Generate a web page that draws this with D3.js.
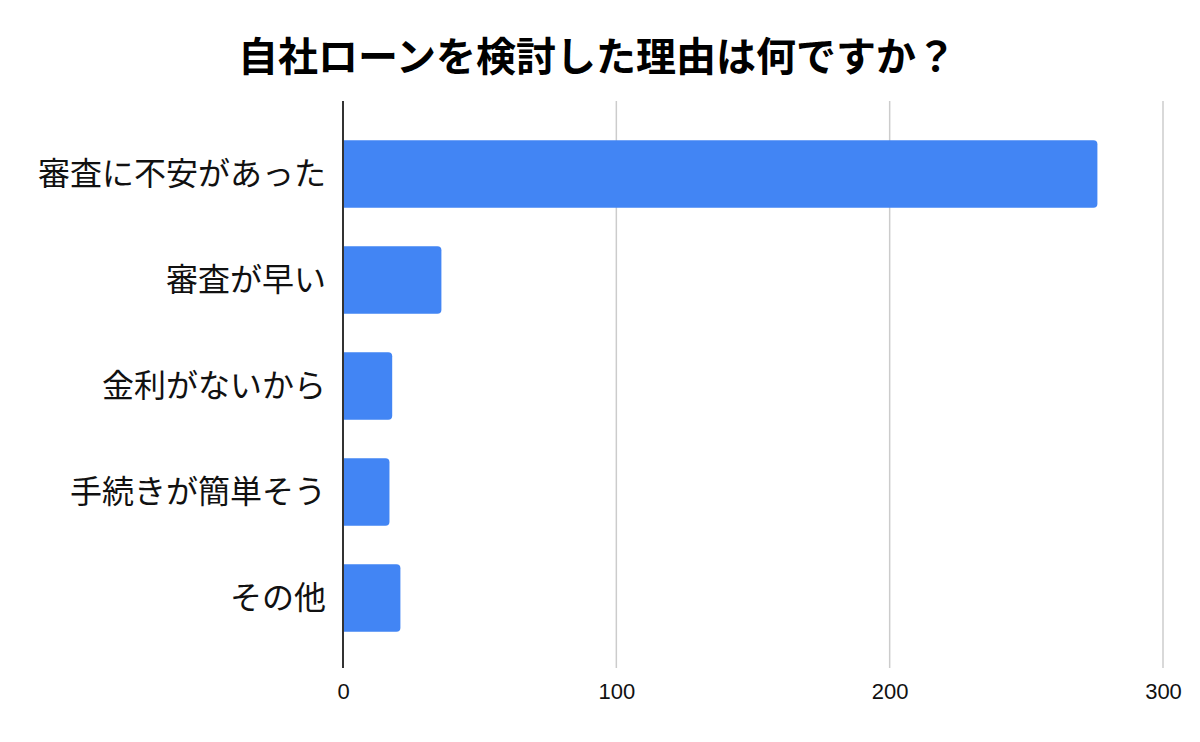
<!DOCTYPE html>
<html><head><meta charset="utf-8">
<script src="https://cdn.jsdelivr.net/npm/d3@7"></script>
<style>body{margin:0;background:#fff;}</style>
</head><body>
<svg id="c" width="1200" height="742"></svg>
<script>
const categories = ["審査に不安があった","審査が早い","金利がないから","手続きが簡単そう","その他"];
const values = [276, 36, 18, 17, 21];
const tickValues = [0, 100, 200, 300];
const title = "自社ローンを検討した理由は何ですか？";

(function(){
const svg = d3.select("#c");
svg.append("rect").attr("width",1200).attr("height",742).attr("fill","#fff");
const x = d3.scaleLinear().domain([0,300]).range([343,1163]);
const y = d3.scaleBand().domain(categories).range([121,651]).paddingInner(0.363).paddingOuter(0.1815);
const plotTop = 101, plotBottom = 668;

// gridlines
svg.append("g").selectAll("line").data(tickValues.filter(d=>d>0)).join("line")
  .attr("x1",d=>x(d)).attr("x2",d=>x(d)).attr("y1",plotTop).attr("y2",plotBottom)
  .attr("stroke","#cccccc").attr("stroke-width",1.5);

// bars
const r = 4;
svg.append("g").selectAll("path").data(values).join("path")
  .attr("d",(d,i)=>{
    const x0=x(0), x1=x(d), y0=y(categories[i]), h=y.bandwidth();
    return `M${x0},${y0}H${x1-r}Q${x1},${y0} ${x1},${y0+r}V${y0+h-r}Q${x1},${y0+h} ${x1-r},${y0+h}H${x0}Z`;
  })
  .attr("fill","#4285f4");

// axis line
svg.append("line").attr("x1",x(0)).attr("x2",x(0)).attr("y1",plotTop).attr("y2",plotBottom)
  .attr("stroke","#333333").attr("stroke-width",2);

// x tick labels
const xAxis = d3.axisBottom(x).tickValues(tickValues).tickSize(0).tickPadding(0);
const gx = svg.append("g").attr("transform",`translate(0,${plotBottom})`).call(xAxis);
gx.select(".domain").remove();
gx.selectAll("text").attr("y",null).attr("dy",null).attr("transform","translate(0,31)")
  .attr("font-family","'Liberation Sans', Arial, sans-serif").attr("font-size",22).attr("fill","#111");

// y labels
const yAxis = d3.axisLeft(y).tickSize(0).tickPadding(0);
const gy = svg.append("g").attr("transform",`translate(326,0)`).call(yAxis);
gy.select(".domain").remove();
gy.selectAll("text").attr("x",0).attr("dy","0.35em")
  .attr("font-family","'Noto Sans CJK JP', sans-serif").attr("font-size",32).attr("fill","#111");

// title
svg.append("text").attr("x",597).attr("y",71).attr("text-anchor","middle")
  .attr("font-family","'Noto Sans CJK JP', sans-serif").attr("font-weight","bold")
  .attr("font-size",40).attr("fill","#000").text(title);
})();
</script>
</body></html>
